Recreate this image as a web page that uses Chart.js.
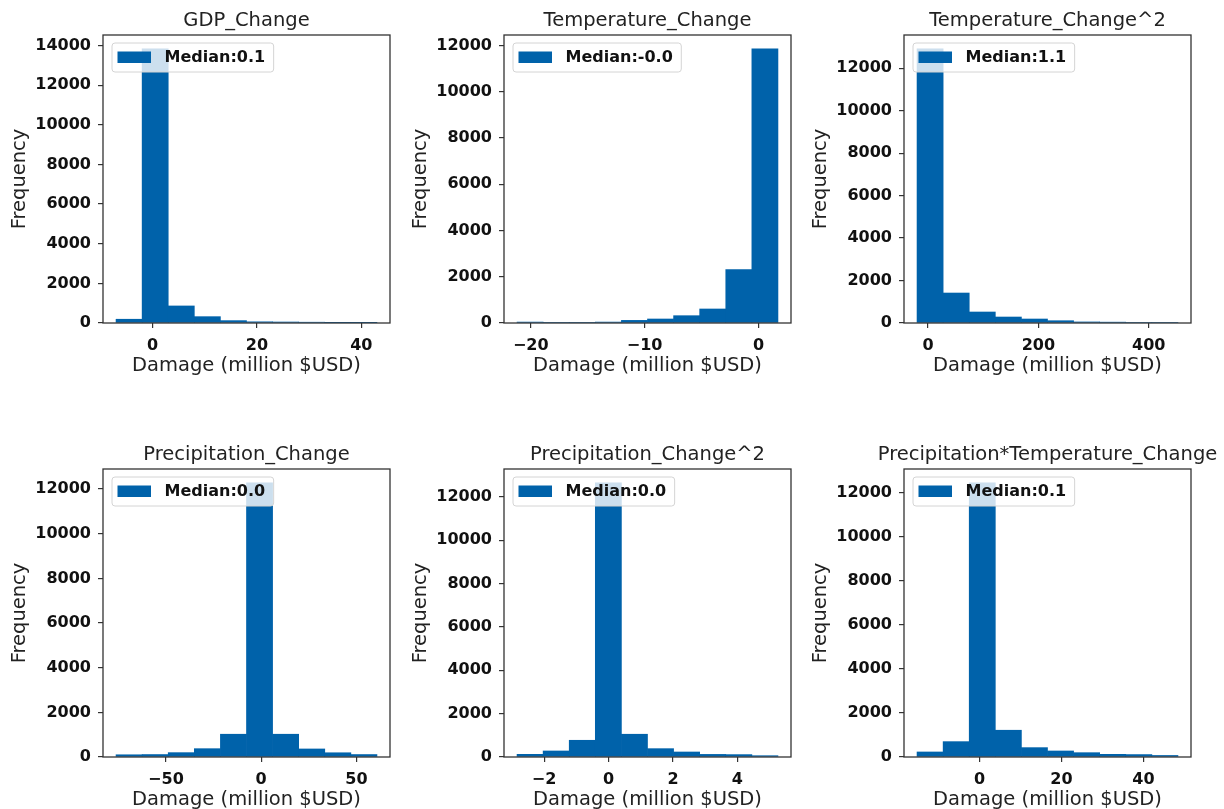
<!DOCTYPE html>
<html>
<head>
<meta charset="utf-8">
<title>Damage histograms</title>
<script src="https://cdn.jsdelivr.net/npm/chart.js@4.4.1/dist/chart.umd.min.js"></script>
<style>
  html, body { margin: 0; padding: 0; background: #fff; overflow: hidden; }
  .panel { position: absolute; }
</style>
</head>
<body>
<div class="panel" style="left:0px;top:0px"><canvas id="c0" width="420" height="380"></canvas></div>
<div class="panel" style="left:401px;top:0px"><canvas id="c1" width="420" height="380"></canvas></div>
<div class="panel" style="left:801px;top:0px"><canvas id="c2" width="420" height="380"></canvas></div>
<div class="panel" style="left:0px;top:434px"><canvas id="c3" width="420" height="380"></canvas></div>
<div class="panel" style="left:401px;top:434px"><canvas id="c4" width="420" height="380"></canvas></div>
<div class="panel" style="left:801px;top:434px"><canvas id="c5" width="420" height="380"></canvas></div>
<script>
// panel titles and legend text
const titles = ['GDP_Change', 'Temperature_Change', 'Temperature_Change^2',
                'Precipitation_Change', 'Precipitation_Change^2', 'Precipitation*Temperature_Change'];
const medians = ['Median:0.1', 'Median:-0.0', 'Median:1.1', 'Median:0.0', 'Median:0.0', 'Median:0.1'];

// bin edges
const gdpEdges    = [-7, -2, 3, 8, 13, 18, 23, 28, 33, 38, 43];
const tempEdges   = [-21.2, -18.91, -16.62, -14.33, -12.04, -9.75, -7.46, -5.17, -2.88, -0.59, 1.7];
const temp2Edges  = [-20, 27.3, 74.6, 121.9, 169.2, 216.5, 263.8, 311.1, 358.4, 405.7, 453];
const precEdges   = [-76.2, -62.5, -48.8, -35.1, -21.4, -7.7, 6.0, 19.7, 33.4, 47.1, 60.8];
const prec2Edges  = [-2.84, -2.03, -1.22, -0.41, 0.40, 1.21, 2.02, 2.83, 3.64, 4.45, 5.26];
const ptEdges     = [-15.26, -8.89, -2.52, 3.85, 10.22, 16.59, 22.96, 29.33, 35.70, 42.07, 48.44];

// frequency per bin
const gdpCounts   = [190, 13840, 860, 320, 120, 60, 50, 40, 10, 10];
const tempCounts  = [40, 30, 30, 40, 113, 173, 316, 606, 2307, 11857];
const temp2Counts = [12920, 1412, 518, 282, 188, 108, 50, 40, 30, 30];
const precCounts  = [100, 110, 195, 373, 1020, 12285, 1020, 360, 190, 110];
const prec2Counts = [123, 278, 771, 12650, 1050, 385, 231, 120, 110, 60];
const ptCounts    = [228, 697, 12440, 1214, 425, 273, 196, 120, 110, 70];

// tick labels
const gdpXTicks   = [0, 20, 40];
const tempXTicks  = [-20, -10, 0];
const temp2XTicks = [0, 200, 400];
const precXTicks  = [-50, 0, 50];
const prec2XTicks = [-2, 0, 2, 4];
const ptXTicks    = [0, 20, 40];
const yTicks14    = [0, 2000, 4000, 6000, 8000, 10000, 12000, 14000];
const yTicks12    = [0, 2000, 4000, 6000, 8000, 10000, 12000];

const barColor = '#0062aa';
Chart.defaults.font.family = "'DejaVu Sans', sans-serif";

function fmt(v) {
    return v < 0 ? '\u2212' + Math.abs(v) : String(v);
}

// box around the plot, legend inside top-left, title above
const frameAndLegend = {
    id: 'frameAndLegend',
    afterDatasetsDraw(chart, args, opts) {
        const ctx = chart.ctx;
        const a = chart.chartArea;
        ctx.save();
        ctx.strokeStyle = '#333';
        ctx.lineWidth = 1.3;
        ctx.strokeRect(a.left, a.top, a.right - a.left, a.bottom - a.top);

        const label = chart.data.datasets[0].label;
        ctx.font = "bold 16px 'DejaVu Sans'";
        const tw = ctx.measureText(label).width;
        const bx = a.left + 9, by = a.top + 8;
        const bw = 5.5 + 33.5 + 13.5 + tw + 8.5, bh = 29;
        ctx.beginPath();
        ctx.roundRect(bx, by, bw, bh, 3);
        ctx.fillStyle = 'rgba(255,255,255,0.8)';
        ctx.fill();
        ctx.strokeStyle = '#d4d4d4';
        ctx.lineWidth = 1;
        ctx.stroke();
        ctx.fillStyle = barColor;
        ctx.fillRect(bx + 5.5, by + 8.5, 33.5, 11.5);
        ctx.fillStyle = '#111';
        ctx.textBaseline = 'middle';
        ctx.fillText(label, bx + 52.5, by + bh / 2 + 0.5);

        ctx.font = "19.5px 'DejaVu Sans'";
        ctx.fillStyle = '#222';
        ctx.textAlign = 'center';
        ctx.fillText(opts.title, (a.left + a.right) / 2, a.top - 14);
        ctx.restore();
    }
};

function makeChart(id, title, median, edges, counts, xt, yt) {
    const points = counts.map((c, i) => ({ x: (edges[i] + edges[i + 1]) / 2, y: c }));
    const lo = edges[0], hi = edges[edges.length - 1];
    const span = hi - lo;
    return new Chart(document.getElementById(id), {
        type: 'bar',
        data: {
            datasets: [{
                label: median,
                data: points,
                backgroundColor: barColor,
                borderWidth: 0,
                barPercentage: 1,
                categoryPercentage: 1
            }]
        },
        options: {
            responsive: false,
            animation: false,
            devicePixelRatio: 1,
            layout: { padding: { top: 35, right: 30, left: 0, bottom: 0 } },
            plugins: {
                legend: { display: false },
                tooltip: { enabled: false },
                frameAndLegend: { title: title }
            },
            scales: {
                x: {
                    type: 'linear',
                    offset: false,
                    min: lo - span * 0.05,
                    max: hi + span * 0.05,
                    afterBuildTicks: s => { s.ticks = xt.map(v => ({ value: v })); },
                    afterFit: s => { s.height = 57; },
                    grid: { offset: false, drawOnChartArea: false, drawTicks: true, tickLength: 5, color: '#333', lineWidth: 1.2 },
                    border: { display: false },
                    ticks: {
                        autoSkip: false, maxRotation: 0, padding: 8,
                        color: '#111', font: { size: 16, weight: 'bold' },
                        callback: v => fmt(v)
                    },
                    title: {
                        display: true, text: 'Damage (million $USD)', color: '#222',
                        font: { size: 19.5 }, padding: { top: 0, bottom: 2 }
                    }
                },
                y: {
                    min: 0,
                    max: Math.max(...counts) * 1.05,
                    afterBuildTicks: s => { s.ticks = yt.map(v => ({ value: v })); },
                    afterFit: s => { s.width = 103; },
                    grid: { drawOnChartArea: false, drawTicks: true, tickLength: 5, color: '#333', lineWidth: 1.2 },
                    border: { display: false },
                    ticks: {
                        autoSkip: false, padding: 7,
                        color: '#111', font: { size: 16, weight: 'bold' },
                        callback: v => String(v)
                    },
                    title: {
                        display: true, text: 'Frequency', color: '#222',
                        font: { size: 19.5 }, padding: { top: 8, bottom: 0 }
                    }
                }
            }
        },
        plugins: [frameAndLegend]
    });
}

makeChart('c0', titles[0], medians[0], gdpEdges, gdpCounts, gdpXTicks, yTicks14);
makeChart('c1', titles[1], medians[1], tempEdges, tempCounts, tempXTicks, yTicks12);
makeChart('c2', titles[2], medians[2], temp2Edges, temp2Counts, temp2XTicks, yTicks12);
makeChart('c3', titles[3], medians[3], precEdges, precCounts, precXTicks, yTicks12);
makeChart('c4', titles[4], medians[4], prec2Edges, prec2Counts, prec2XTicks, yTicks12);
makeChart('c5', titles[5], medians[5], ptEdges, ptCounts, ptXTicks, yTicks12);
</script>
</body>
</html>
